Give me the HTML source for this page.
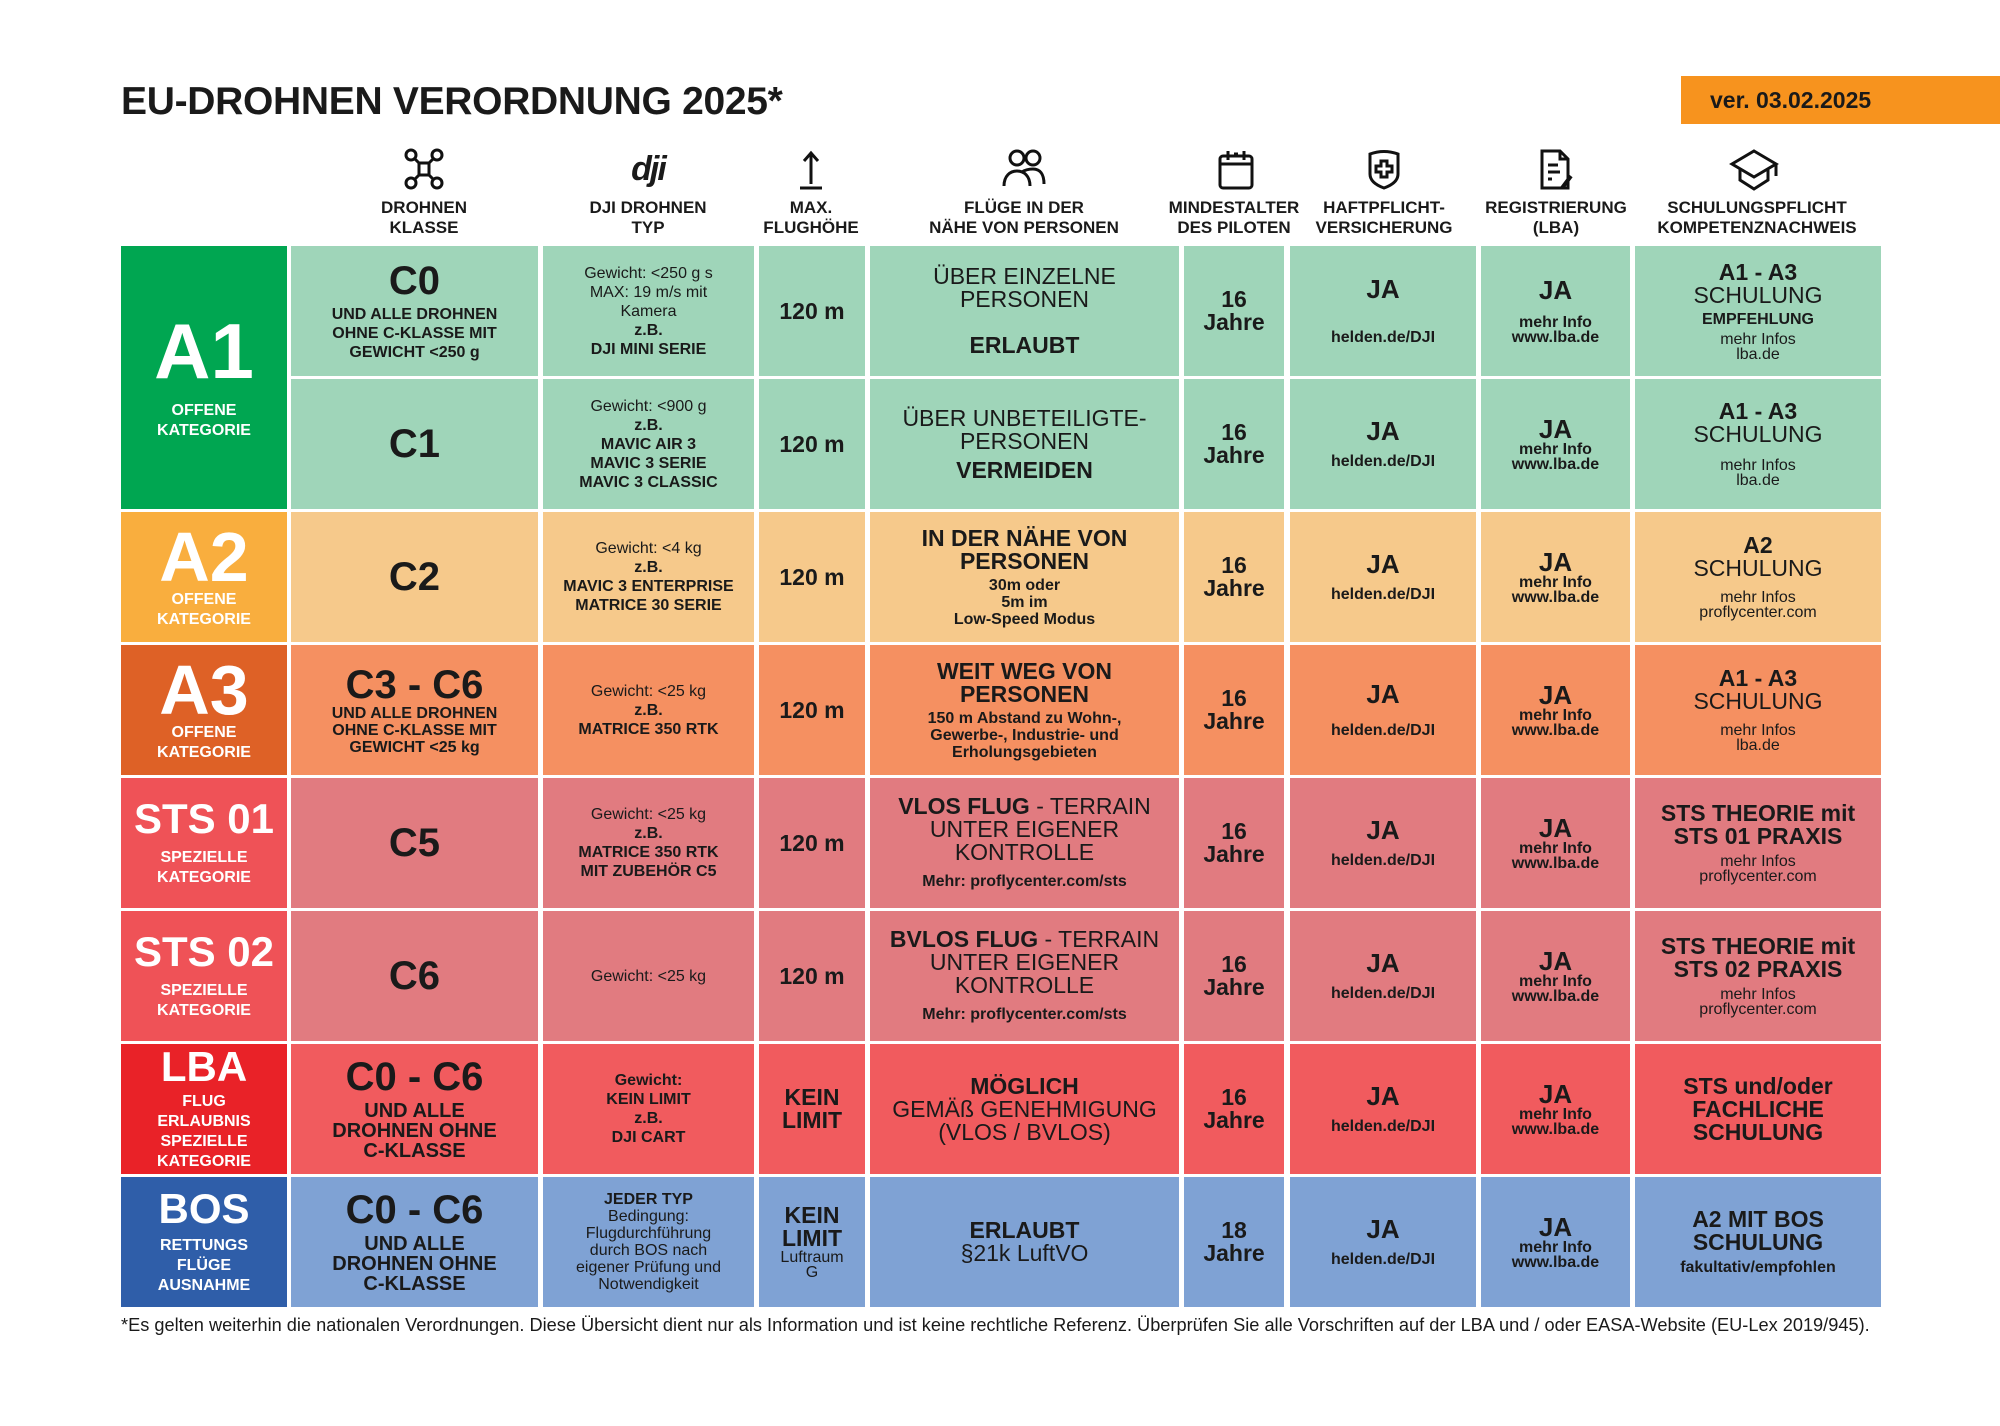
<!DOCTYPE html>
<html><head><meta charset="utf-8">
<style>
*{margin:0;padding:0;box-sizing:border-box}
body{width:2000px;height:1426px;background:#fff;position:relative;overflow:hidden;font-family:"Liberation Sans",sans-serif;color:#1a1a1a}
.a{position:absolute}
.c{position:absolute;display:flex;flex-direction:column;align-items:center;justify-content:center;text-align:center;font-weight:bold;line-height:1.0}
.h{position:absolute;top:198px;text-align:center;font-weight:bold;font-size:17px;line-height:20px;transform:translateX(-50%);white-space:nowrap}
.ic{position:absolute;top:148px;transform:translateX(-50%)}
.big{font-size:40px;font-weight:900}
.cat{color:#fff}
.cat .t{font-size:78px;font-weight:900;line-height:0.95}
.cat .t2{font-size:42px;font-weight:900;line-height:1}
.cat .s{font-size:16px;font-weight:bold;line-height:20px}
.sm{font-size:16px;line-height:19px}
.md{font-size:23px;line-height:23px}
.ja{font-size:26px}
.n{font-weight:normal}
</style></head><body>
<div class="a" style="left:121px;top:80px;font-size:39px;font-weight:900;letter-spacing:-0.3px">EU-DROHNEN VERORDNUNG 2025*</div>
<div class="a" style="left:1681px;top:76px;width:319px;height:48px;background:#f7931e"></div>
<div class="a" style="left:1710px;top:87px;font-size:23px;font-weight:bold">ver. 03.02.2025</div>

<!-- header icons -->
<svg class="ic" style="left:424px" width="40" height="42" viewBox="0 0 40 42" fill="none" stroke="#111" stroke-width="3"><circle cx="7" cy="7" r="5"/><circle cx="33" cy="7" r="5"/><circle cx="7" cy="35" r="5"/><circle cx="33" cy="35" r="5"/><path d="M11 11 L16 16 M29 11 L24 16 M11 31 L16 26 M29 31 L24 26"/><rect x="15" y="15" width="10" height="12"/></svg>
<div class="ic" style="left:648px;top:150px;font-size:34px;font-weight:900;font-style:italic;letter-spacing:-2px">dji</div>
<svg class="ic" style="left:811px" width="30" height="42" viewBox="0 0 30 42" fill="none" stroke="#111" stroke-width="3"><path d="M15 36V6 M8 13 L15 5 L22 13 M4 40H26"/></svg>
<svg class="ic" style="left:1024px" width="44" height="42" viewBox="0 0 44 42" fill="none" stroke="#111" stroke-width="3"><circle cx="15" cy="10" r="7"/><circle cx="31" cy="10" r="7"/><path d="M2 38c0-10 6-15 13-15s13 5 13 15M20 24c3-2 6-3 11-3 7 0 11 5 11 15"/></svg>
<svg class="ic" style="left:1236px" width="38" height="42" viewBox="0 0 38 42" fill="none" stroke="#111" stroke-width="3"><rect x="3" y="8" width="32" height="32" rx="3"/><path d="M3 16H35M11 3V12M27 3V12M17 6H21"/></svg>
<svg class="ic" style="left:1384px" width="36" height="42" viewBox="0 0 36 42" fill="none" stroke="#111" stroke-width="3"><path d="M4 6 Q18 1 32 6 V26 Q32 35 18 40 Q4 35 4 26Z"/><path d="M15 13H21V18H26V24H21V29H15V24H10V18H15Z"/></svg>
<svg class="ic" style="left:1556px" width="36" height="44" viewBox="0 0 36 44" fill="none" stroke="#111" stroke-width="3"><path d="M4 3H22L30 11V40H4Z M22 3V11H30 M10 17H20 M10 24H22 M10 31H14"/><path d="M24 40 L33 28" stroke-width="4"/></svg>
<svg class="ic" style="left:1754px" width="52" height="44" viewBox="0 0 52 44" fill="none" stroke="#111" stroke-width="3"><path d="M26 3 L48 16 L26 29 L4 16Z M12 21V32 L26 41 L40 32V21 M48 16V28"/></svg>

<div class="h" style="left:424px">DROHNEN<br>KLASSE</div>
<div class="h" style="left:648px">DJI DROHNEN<br>TYP</div>
<div class="h" style="left:811px">MAX.<br>FLUGHÖHE</div>
<div class="h" style="left:1024px">FLÜGE IN DER<br>NÄHE VON PERSONEN</div>
<div class="h" style="left:1234px">MINDESTALTER<br>DES PILOTEN</div>
<div class="h" style="left:1384px">HAFTPFLICHT-<br>VERSICHERUNG</div>
<div class="h" style="left:1556px">REGISTRIERUNG<br>(LBA)</div>
<div class="h" style="left:1757px">SCHULUNGSPFLICHT<br>KOMPETENZNACHWEIS</div>

<!-- Category column -->
<div class="c cat" style="left:121px;top:246px;width:166px;height:263px;background:#00a651"><div class="t">A1</div><div class="s" style="margin-top:12px">OFFENE<br>KATEGORIE</div></div>
<div class="c cat" style="left:121px;top:512px;width:166px;height:130px;background:#f9ae3e"><div class="t" style="font-size:70px">A2</div><div class="s">OFFENE<br>KATEGORIE</div></div>
<div class="c cat" style="left:121px;top:645px;width:166px;height:130px;background:#de6126"><div class="t" style="font-size:70px">A3</div><div class="s">OFFENE<br>KATEGORIE</div></div>
<div class="c cat" style="left:121px;top:778px;width:166px;height:130px;background:#ef5257"><div class="t2">STS 01</div><div class="s" style="margin-top:8px">SPEZIELLE<br>KATEGORIE</div></div>
<div class="c cat" style="left:121px;top:911px;width:166px;height:130px;background:#ef5257"><div class="t2">STS 02</div><div class="s" style="margin-top:8px">SPEZIELLE<br>KATEGORIE</div></div>
<div class="c cat" style="left:121px;top:1044px;width:166px;height:130px;background:#e92228"><div class="t2">LBA</div><div class="s" style="margin-top:4px">FLUG<br>ERLAUBNIS<br>SPEZIELLE<br>KATEGORIE</div></div>
<div class="c cat" style="left:121px;top:1177px;width:166px;height:130px;background:#2f5ea9"><div class="t2">BOS</div><div class="s" style="margin-top:6px">RETTUNGS<br>FLÜGE<br>AUSNAHME</div></div>

<!-- Row 1 A1/C0 -->
<div class="c" style="left:291px;top:246px;width:247px;height:130px;background:#9fd5b9"><div class="big">C0</div><div class="sm" style="margin-top:4px">UND ALLE DROHNEN<br>OHNE C-KLASSE MIT<br>GEWICHT &lt;250 g</div></div>
<div class="c sm" style="left:543px;top:246px;width:211px;height:130px;background:#9fd5b9"><span class="n">Gewicht: &lt;250 g s<br>MAX: 19 m/s mit<br>Kamera</span>z.B.<br>DJI MINI SERIE</div>
<div class="c md" style="left:759px;top:246px;width:106px;height:130px;background:#9fd5b9">120 m</div>
<div class="c md" style="left:870px;top:246px;width:309px;height:130px;background:#9fd5b9"><span class="n">ÜBER EINZELNE<br>PERSONEN</span><br>ERLAUBT</div>
<div class="c md" style="left:1184px;top:246px;width:100px;height:130px;background:#9fd5b9">16<br>Jahre</div>
<div class="c" style="left:1290px;top:246px;width:186px;height:130px;background:#9fd5b9"><div class="ja">JA</div><div class="sm" style="margin-top:26px">helden.de/DJI</div></div>
<div class="c" style="left:1481px;top:246px;width:149px;height:130px;background:#9fd5b9"><div class="ja">JA</div><div class="sm" style="margin-top:12px;line-height:15px">mehr Info<br>www.lba.de</div></div>
<div class="c" style="left:1635px;top:246px;width:246px;height:130px;background:#9fd5b9"><div class="md">A1 - A3</div><div class="md n">SCHULUNG</div><div class="sm" style="margin:3px 0">EMPFEHLUNG</div><div class="sm n" style="line-height:15px">mehr Infos<br>lba.de</div></div>

<!-- Row 2 C1 -->
<div class="c" style="left:291px;top:379px;width:247px;height:130px;background:#9fd5b9"><div class="big">C1</div></div>
<div class="c sm" style="left:543px;top:379px;width:211px;height:130px;background:#9fd5b9"><span class="n">Gewicht: &lt;900 g</span>z.B.<br>MAVIC AIR 3<br>MAVIC 3 SERIE<br>MAVIC 3 CLASSIC</div>
<div class="c md" style="left:759px;top:379px;width:106px;height:130px;background:#9fd5b9">120 m</div>
<div class="c md" style="left:870px;top:379px;width:309px;height:130px;background:#9fd5b9"><span class="n">ÜBER UNBETEILIGTE-<br>PERSONEN</span><span style="margin-top:6px">VERMEIDEN</span></div>
<div class="c md" style="left:1184px;top:379px;width:100px;height:130px;background:#9fd5b9">16<br>Jahre</div>
<div class="c" style="left:1290px;top:379px;width:186px;height:130px;background:#9fd5b9"><div class="ja">JA</div><div class="sm" style="margin-top:8px">helden.de/DJI</div></div>
<div class="c" style="left:1481px;top:379px;width:149px;height:130px;background:#9fd5b9"><div class="ja">JA</div><div class="sm" style="line-height:15px">mehr Info<br>www.lba.de</div></div>
<div class="c" style="left:1635px;top:379px;width:246px;height:130px;background:#9fd5b9"><div class="md">A1 - A3</div><div class="md n">SCHULUNG</div><div class="sm n" style="margin-top:12px;line-height:15px">mehr Infos<br>lba.de</div></div>

<!-- Row 3 C2 -->
<div class="c" style="left:291px;top:512px;width:247px;height:130px;background:#f6c98b"><div class="big">C2</div></div>
<div class="c sm" style="left:543px;top:512px;width:211px;height:130px;background:#f6c98b"><span class="n">Gewicht: &lt;4 kg</span>z.B.<br>MAVIC 3 ENTERPRISE<br>MATRICE 30 SERIE</div>
<div class="c md" style="left:759px;top:512px;width:106px;height:130px;background:#f6c98b">120 m</div>
<div class="c" style="left:870px;top:512px;width:309px;height:130px;background:#f6c98b"><div class="md">IN DER NÄHE VON<br>PERSONEN</div><div class="sm" style="margin-top:4px;line-height:17px">30m oder<br>5m im<br>Low-Speed Modus</div></div>
<div class="c md" style="left:1184px;top:512px;width:100px;height:130px;background:#f6c98b">16<br>Jahre</div>
<div class="c" style="left:1290px;top:512px;width:186px;height:130px;background:#f6c98b"><div class="ja">JA</div><div class="sm" style="margin-top:8px">helden.de/DJI</div></div>
<div class="c" style="left:1481px;top:512px;width:149px;height:130px;background:#f6c98b"><div class="ja">JA</div><div class="sm" style="line-height:15px">mehr Info<br>www.lba.de</div></div>
<div class="c" style="left:1635px;top:512px;width:246px;height:130px;background:#f6c98b"><div class="md">A2</div><div class="md n">SCHULUNG</div><div class="sm n" style="margin-top:10px;line-height:15px">mehr Infos<br>proflycenter.com</div></div>

<!-- Row 4 C3-C6 -->
<div class="c" style="left:291px;top:645px;width:247px;height:130px;background:#f59061"><div class="big">C3 - C6</div><div class="sm" style="line-height:17px">UND ALLE DROHNEN<br>OHNE C-KLASSE MIT<br>GEWICHT &lt;25 kg</div></div>
<div class="c sm" style="left:543px;top:645px;width:211px;height:130px;background:#f59061"><span class="n">Gewicht: &lt;25 kg</span>z.B.<br>MATRICE 350 RTK</div>
<div class="c md" style="left:759px;top:645px;width:106px;height:130px;background:#f59061">120 m</div>
<div class="c" style="left:870px;top:645px;width:309px;height:130px;background:#f59061"><div class="md">WEIT WEG VON<br>PERSONEN</div><div class="sm" style="margin-top:4px;line-height:17px">150 m Abstand zu Wohn-,<br>Gewerbe-, Industrie- und<br>Erholungsgebieten</div></div>
<div class="c md" style="left:1184px;top:645px;width:100px;height:130px;background:#f59061">16<br>Jahre</div>
<div class="c" style="left:1290px;top:645px;width:186px;height:130px;background:#f59061"><div class="ja">JA</div><div class="sm" style="margin-top:14px">helden.de/DJI</div></div>
<div class="c" style="left:1481px;top:645px;width:149px;height:130px;background:#f59061"><div class="ja">JA</div><div class="sm" style="line-height:15px">mehr Info<br>www.lba.de</div></div>
<div class="c" style="left:1635px;top:645px;width:246px;height:130px;background:#f59061"><div class="md">A1 - A3</div><div class="md n">SCHULUNG</div><div class="sm n" style="margin-top:10px;line-height:15px">mehr Infos<br>lba.de</div></div>

<!-- Row 5 C5 -->
<div class="c" style="left:291px;top:778px;width:247px;height:130px;background:#e17b80"><div class="big">C5</div></div>
<div class="c sm" style="left:543px;top:778px;width:211px;height:130px;background:#e17b80"><span class="n">Gewicht: &lt;25 kg</span>z.B.<br>MATRICE 350 RTK<br>MIT ZUBEHÖR C5</div>
<div class="c md" style="left:759px;top:778px;width:106px;height:130px;background:#e17b80">120 m</div>
<div class="c" style="left:870px;top:778px;width:309px;height:130px;background:#e17b80"><div class="md">VLOS FLUG <span class="n">- TERRAIN<br>UNTER EIGENER<br>KONTROLLE</span></div><div class="sm" style="margin-top:8px">Mehr: proflycenter.com/sts</div></div>
<div class="c md" style="left:1184px;top:778px;width:100px;height:130px;background:#e17b80">16<br>Jahre</div>
<div class="c" style="left:1290px;top:778px;width:186px;height:130px;background:#e17b80"><div class="ja">JA</div><div class="sm" style="margin-top:8px">helden.de/DJI</div></div>
<div class="c" style="left:1481px;top:778px;width:149px;height:130px;background:#e17b80"><div class="ja">JA</div><div class="sm" style="line-height:15px">mehr Info<br>www.lba.de</div></div>
<div class="c" style="left:1635px;top:778px;width:246px;height:130px;background:#e17b80"><div class="md">STS THEORIE mit<br>STS 01 PRAXIS</div><div class="sm n" style="margin-top:6px;line-height:15px">mehr Infos<br>proflycenter.com</div></div>

<!-- Row 6 C6 -->
<div class="c" style="left:291px;top:911px;width:247px;height:130px;background:#e17b80"><div class="big">C6</div></div>
<div class="c sm" style="left:543px;top:911px;width:211px;height:130px;background:#e17b80"><span class="n">Gewicht: &lt;25 kg</span></div>
<div class="c md" style="left:759px;top:911px;width:106px;height:130px;background:#e17b80">120 m</div>
<div class="c" style="left:870px;top:911px;width:309px;height:130px;background:#e17b80"><div class="md">BVLOS FLUG <span class="n">- TERRAIN<br>UNTER EIGENER<br>KONTROLLE</span></div><div class="sm" style="margin-top:8px">Mehr: proflycenter.com/sts</div></div>
<div class="c md" style="left:1184px;top:911px;width:100px;height:130px;background:#e17b80">16<br>Jahre</div>
<div class="c" style="left:1290px;top:911px;width:186px;height:130px;background:#e17b80"><div class="ja">JA</div><div class="sm" style="margin-top:8px">helden.de/DJI</div></div>
<div class="c" style="left:1481px;top:911px;width:149px;height:130px;background:#e17b80"><div class="ja">JA</div><div class="sm" style="line-height:15px">mehr Info<br>www.lba.de</div></div>
<div class="c" style="left:1635px;top:911px;width:246px;height:130px;background:#e17b80"><div class="md">STS THEORIE mit<br>STS 02 PRAXIS</div><div class="sm n" style="margin-top:6px;line-height:15px">mehr Infos<br>proflycenter.com</div></div>

<!-- Row 7 LBA -->
<div class="c" style="left:291px;top:1044px;width:247px;height:130px;background:#f15b5e"><div class="big">C0 - C6</div><div class="md" style="font-size:20px;line-height:20px;margin-top:4px">UND ALLE<br>DROHNEN OHNE<br>C-KLASSE</div></div>
<div class="c sm" style="left:543px;top:1044px;width:211px;height:130px;background:#f15b5e">Gewicht:<br>KEIN LIMIT<br>z.B.<br>DJI CART</div>
<div class="c md" style="left:759px;top:1044px;width:106px;height:130px;background:#f15b5e">KEIN<br>LIMIT</div>
<div class="c md" style="left:870px;top:1044px;width:309px;height:130px;background:#f15b5e">MÖGLICH<br><span class="n">GEMÄß GENEHMIGUNG<br>(VLOS / BVLOS)</span></div>
<div class="c md" style="left:1184px;top:1044px;width:100px;height:130px;background:#f15b5e">16<br>Jahre</div>
<div class="c" style="left:1290px;top:1044px;width:186px;height:130px;background:#f15b5e"><div class="ja">JA</div><div class="sm" style="margin-top:8px">helden.de/DJI</div></div>
<div class="c" style="left:1481px;top:1044px;width:149px;height:130px;background:#f15b5e"><div class="ja">JA</div><div class="sm" style="line-height:15px">mehr Info<br>www.lba.de</div></div>
<div class="c md" style="left:1635px;top:1044px;width:246px;height:130px;background:#f15b5e">STS und/oder<br>FACHLICHE<br>SCHULUNG</div>

<!-- Row 8 BOS -->
<div class="c" style="left:291px;top:1177px;width:247px;height:130px;background:#7fa2d4"><div class="big">C0 - C6</div><div class="md" style="font-size:20px;line-height:20px;margin-top:4px">UND ALLE<br>DROHNEN OHNE<br>C-KLASSE</div></div>
<div class="c sm" style="left:543px;top:1177px;width:211px;height:130px;background:#7fa2d4;line-height:17px">JEDER TYP<br><span class="n">Bedingung:<br>Flugdurchführung<br>durch BOS nach<br>eigener Prüfung und<br>Notwendigkeit</span></div>
<div class="c" style="left:759px;top:1177px;width:106px;height:130px;background:#7fa2d4"><div class="md">KEIN<br>LIMIT</div><div class="sm n" style="line-height:15px">Luftraum<br>G</div></div>
<div class="c md" style="left:870px;top:1177px;width:309px;height:130px;background:#7fa2d4">ERLAUBT<br><span class="n">§21k LuftVO</span></div>
<div class="c md" style="left:1184px;top:1177px;width:100px;height:130px;background:#7fa2d4">18<br>Jahre</div>
<div class="c" style="left:1290px;top:1177px;width:186px;height:130px;background:#7fa2d4"><div class="ja">JA</div><div class="sm" style="margin-top:8px">helden.de/DJI</div></div>
<div class="c" style="left:1481px;top:1177px;width:149px;height:130px;background:#7fa2d4"><div class="ja">JA</div><div class="sm" style="line-height:15px">mehr Info<br>www.lba.de</div></div>
<div class="c" style="left:1635px;top:1177px;width:246px;height:130px;background:#7fa2d4"><div class="md">A2 MIT BOS<br>SCHULUNG</div><div class="sm" style="margin-top:4px">fakultativ/empfohlen</div></div>

<div class="a" style="left:121px;top:1315px;font-size:18.2px;white-space:nowrap">*Es gelten weiterhin die nationalen Verordnungen. Diese Übersicht dient nur als Information und ist keine rechtliche Referenz. Überprüfen Sie alle Vorschriften auf der LBA und / oder EASA-Website (EU-Lex 2019/945).</div>
</body></html>
